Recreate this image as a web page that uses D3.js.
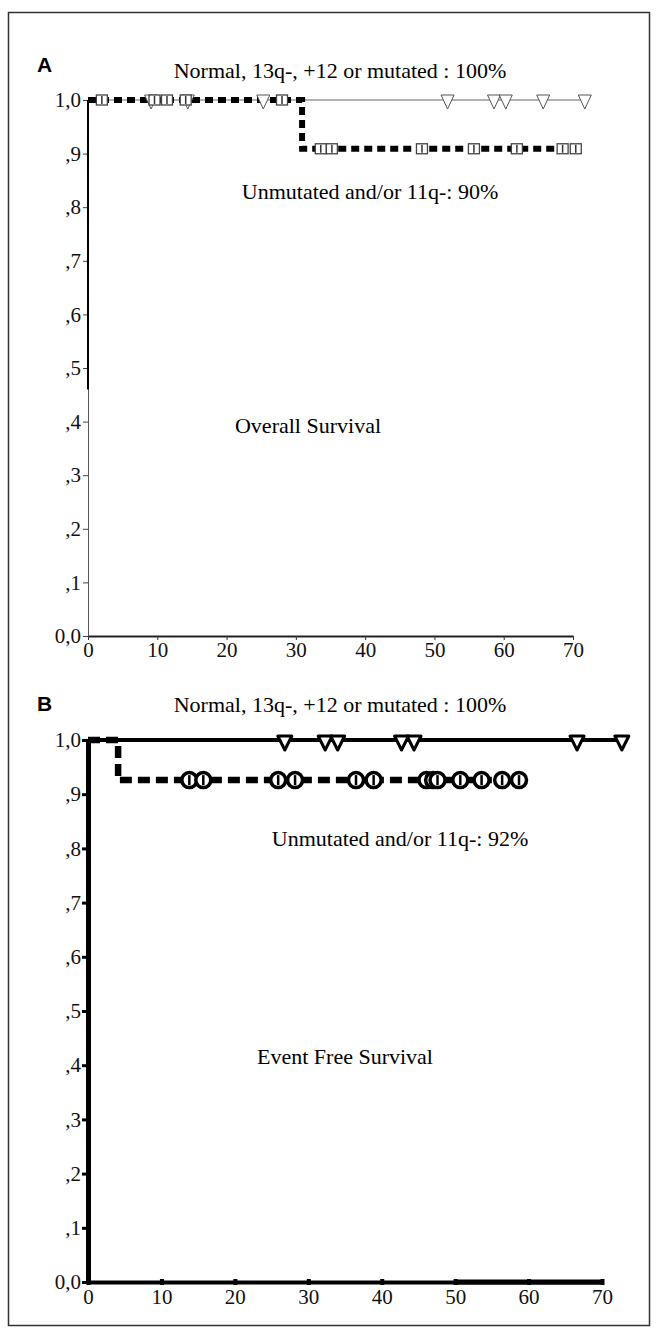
<!DOCTYPE html>
<html>
<head>
<meta charset="utf-8">
<script src="https://cdnjs.cloudflare.com/ajax/libs/d3/7.8.5/d3.min.js"></script>
<style>
  body { margin: 0; background: #fff; }
  text { font-family: "Liberation Serif", "Times New Roman", serif; }
</style>
</head>
<body>
<div id="chart"></div>
<script>
// Width and height
var chart_width  = 656;
var chart_height = 1333;

// axis ticks
var xTicks      = [0, 10, 20, 30, 40, 50, 60, 70];
var yTicks      = [0, 0.1, 0.2, 0.3, 0.4, 0.5, 0.6, 0.7, 0.8, 0.9, 1.0];
var yTickLabels = ["0,0", ",1", ",2", ",3", ",4", ",5", ",6", ",7", ",8", ",9", "1,0"];

// panel A - overall survival, steps are [months, survival]
var osFavSteps    = [[0, 1], [72, 1]];
var osFavCensor   = [9.1, 14.4, 25.3, 51.9, 58.6, 60.3, 65.7, 71.7];
var osUnfavSteps  = [[0, 1], [30.9, 0.909], [70.8, 0.909]];
var osUnfavCensor = [2.0, 9.6, 11.4, 14.1, 28.0, 33.6, 35.2, 48.2, 55.7, 61.9, 68.5, 70.4];

// panel B - event free survival
var efsFavSteps    = [[0, 1], [73, 1]];
var efsFavCensor   = [26.8, 32.3, 34.0, 42.7, 44.4, 66.6, 72.7];
var efsUnfavSteps  = [[0, 1], [4.1, 0.926], [58.7, 0.926]];
var efsUnfavCensor = [13.8, 15.7, 25.9, 28.2, 36.5, 38.9, 46.1, 47.0, 47.6, 50.7, 53.6, 56.4, 58.7];

var favLabel      = "Normal, 13q-, +12 or mutated : 100%";
var osUnfavLabel  = "Unmutated and/or 11q-: 90%";
var efsUnfavLabel = "Unmutated and/or 11q-: 92%";

// Create SVG
var svg = d3.select("#chart")
  .append("svg")
  .attr("width", chart_width)
  .attr("height", chart_height);

// frame
svg.append("rect")
  .attr("x", 8.5).attr("y", 12.5)
  .attr("width", 641).attr("height", 1313)
  .attr("fill", "none")
  .attr("stroke", "#333")
  .attr("stroke-width", 1.5);

// survival at time t for a step list
function survAt(steps, t){
  var s = steps[0][1];
  steps.forEach(function(p){
    if(p[0] <= t){ s = p[1]; }
  });
  return s;
}

function styleText(g){
  g.selectAll("text").attr("font-size", 21).attr("fill", "#111")
    .style("font-family", "'Liberation Serif', serif");
}

// ---------------- panel A ----------------
var xA = d3.scaleLinear().domain([0, 70]).range([88, 573]);
var yA = d3.scaleLinear().domain([0, 1]).range([636, 100]);

var gA = svg.append("g");

gA.append("g")
  .attr("transform", "translate(0," + yA(0) + ")")
  .call(d3.axisBottom(xA).tickValues(xTicks).tickSize(4).tickSizeOuter(0).tickPadding(2))
  .call(function(g){
    g.select(".domain").attr("stroke", "#222").attr("stroke-width", 1.8);
    g.selectAll(".tick line").attr("stroke", "#333");
    styleText(g);
  });

gA.append("g")
  .attr("transform", "translate(" + xA(0) + ",0)")
  .call(d3.axisLeft(yA).tickValues(yTicks).tickSize(5).tickSizeOuter(0).tickPadding(2)
    .tickFormat(function(d, i){ return yTickLabels[i]; }))
  .call(function(g){
    g.select(".domain").attr("stroke", "#555").attr("stroke-width", 1);
    g.selectAll(".tick line").attr("stroke", "#444");
    styleText(g);
  });

// darker top part of the y axis
gA.append("line")
  .attr("x1", xA(0)).attr("x2", xA(0))
  .attr("y1", yA(1)).attr("y2", yA(0.46))
  .attr("stroke", "#000")
  .attr("stroke-width", 2);

var lineA = d3.line()
  .x(function(d){ return xA(d[0]); })
  .y(function(d){ return yA(d[1]); })
  .curve(d3.curveStepAfter);

gA.append("path")
  .attr("d", lineA(osFavSteps))
  .attr("fill", "none")
  .attr("stroke", "#666")
  .attr("stroke-width", 1);

gA.append("path")
  .attr("d", lineA(osUnfavSteps))
  .attr("fill", "none")
  .attr("stroke", "#000")
  .attr("stroke-width", 6)
  .attr("stroke-dasharray", "8,5");

// open triangles for the favourable group
gA.selectAll(".triA")
  .data(osFavCensor)
  .enter()
  .append("path")
  .attr("class", "triA")
  .attr("d", "M-6.5,-5 L6.5,-5 L0,9 Z")
  .attr("transform", function(d){
    return "translate(" + xA(d) + "," + yA(survAt(osFavSteps, d)) + ")";
  })
  .attr("fill", "#fff")
  .attr("stroke", "#555")
  .attr("stroke-width", 1);

// open squares for the unfavourable group
var sqA = gA.selectAll(".sqA")
  .data(osUnfavCensor)
  .enter()
  .append("g")
  .attr("class", "sqA")
  .attr("transform", function(d){
    return "translate(" + xA(d) + "," + yA(survAt(osUnfavSteps, d)) + ")";
  });
sqA.append("rect")
  .attr("x", -5.5).attr("y", -5)
  .attr("width", 11).attr("height", 10)
  .attr("fill", "#fff")
  .attr("stroke", "#444")
  .attr("stroke-width", 1.3);
sqA.append("line")
  .attr("y1", -4).attr("y2", 4)
  .attr("stroke", "#333")
  .attr("stroke-width", 1.5);

gA.append("text")
  .attr("x", 37).attr("y", 72)
  .style("font-family", "'Liberation Sans', Arial, sans-serif")
  .attr("font-weight", "bold")
  .attr("font-size", 21)
  .text("A");

gA.append("text")
  .attr("x", 340).attr("y", 78)
  .attr("text-anchor", "middle")
  .attr("font-size", 22)
  .text(favLabel);

gA.append("text")
  .attr("x", 370).attr("y", 199)
  .attr("text-anchor", "middle")
  .attr("font-size", 22)
  .text(osUnfavLabel);

gA.append("text")
  .attr("x", 308).attr("y", 433)
  .attr("text-anchor", "middle")
  .attr("font-size", 22)
  .text("Overall Survival");

// ---------------- panel B ----------------
var xB = d3.scaleLinear().domain([0, 70]).range([88, 602]);
var yB = d3.scaleLinear().domain([0, 1]).range([1282, 740]);

var gB = svg.append("g");

gB.append("g")
  .attr("transform", "translate(0," + yB(0) + ")")
  .call(d3.axisBottom(xB).tickValues(xTicks).tickSize(3).tickSizeOuter(0).tickPadding(4))
  .call(function(g){
    g.select(".domain").attr("stroke", "#000").attr("stroke-width", 4);
    g.selectAll(".tick line").attr("stroke", "#000").attr("stroke-width", 4)
      .attr("y1", -3);
    styleText(g);
  });

gB.append("g")
  .attr("transform", "translate(" + xB(0) + ",0)")
  .call(d3.axisLeft(yB).tickValues(yTicks).tickSize(6).tickSizeOuter(0).tickPadding(1)
    .tickFormat(function(d, i){ return yTickLabels[i]; }))
  .call(function(g){
    g.select(".domain").attr("stroke", "#000").attr("stroke-width", 5);
    g.selectAll(".tick line").attr("stroke", "#000").attr("stroke-width", 3);
    styleText(g);
  });

// heavier end of the x axis
gB.append("line")
  .attr("x1", xB(50)).attr("x2", xB(70))
  .attr("y1", yB(0)).attr("y2", yB(0))
  .attr("stroke", "#000")
  .attr("stroke-width", 5);

var lineB = d3.line()
  .x(function(d){ return xB(d[0]); })
  .y(function(d){ return yB(d[1]); })
  .curve(d3.curveStepAfter);

gB.append("path")
  .attr("d", lineB(efsFavSteps))
  .attr("fill", "none")
  .attr("stroke", "#000")
  .attr("stroke-width", 4);

gB.append("path")
  .attr("d", lineB(efsUnfavSteps))
  .attr("fill", "none")
  .attr("stroke", "#000")
  .attr("stroke-width", 6.5)
  .attr("stroke-dasharray", "12,6");

gB.selectAll(".triB")
  .data(efsFavCensor)
  .enter()
  .append("path")
  .attr("class", "triB")
  .attr("d", "M-7,-4 L7,-4 L0,10 Z")
  .attr("transform", function(d){
    return "translate(" + xB(d) + "," + yB(survAt(efsFavSteps, d)) + ")";
  })
  .attr("fill", "#fff")
  .attr("stroke", "#000")
  .attr("stroke-width", 3)
  .attr("stroke-linejoin", "round");

var ciB = gB.selectAll(".ciB")
  .data(efsUnfavCensor)
  .enter()
  .append("g")
  .attr("class", "ciB")
  .attr("transform", function(d){
    return "translate(" + xB(d) + "," + yB(survAt(efsUnfavSteps, d)) + ")";
  });
ciB.append("circle")
  .attr("r", 7.5)
  .attr("fill", "#fff")
  .attr("stroke", "#000")
  .attr("stroke-width", 3.5);
ciB.append("line")
  .attr("y1", -5).attr("y2", 5)
  .attr("stroke", "#000")
  .attr("stroke-width", 2.5);

gB.append("text")
  .attr("x", 37).attr("y", 711)
  .style("font-family", "'Liberation Sans', Arial, sans-serif")
  .attr("font-weight", "bold")
  .attr("font-size", 21)
  .text("B");

gB.append("text")
  .attr("x", 340).attr("y", 712)
  .attr("text-anchor", "middle")
  .attr("font-size", 22)
  .text(favLabel);

gB.append("text")
  .attr("x", 400).attr("y", 846)
  .attr("text-anchor", "middle")
  .attr("font-size", 22)
  .text(efsUnfavLabel);

gB.append("text")
  .attr("x", 345).attr("y", 1064)
  .attr("text-anchor", "middle")
  .attr("font-size", 22)
  .text("Event Free Survival");
</script>
</body>
</html>
